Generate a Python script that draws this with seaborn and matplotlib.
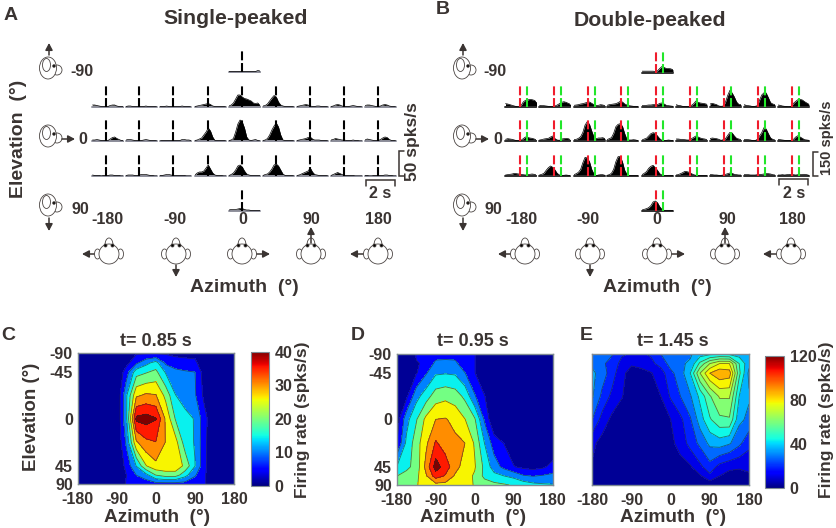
import numpy as np
import matplotlib
matplotlib.use("Agg")
import matplotlib.pyplot as plt
from matplotlib.patches import Ellipse
from matplotlib.cm import ScalarMappable
from matplotlib.colors import Normalize
import seaborn as sns

# ---------- data ----------
bin_time = [0.0, 0.15, 0.3, 0.45, 0.6, 0.75, 0.9, 1.05, 1.2, 1.35, 1.5, 1.65, 1.8, 1.95, 2.1]

single_top = [1,1,1,1,1,1,1,1,1,1,1,1,1,3,2]
single_r1 = [
 [4,4,3,2,1,1,1,1,3,4,4,2,1,1,1],
 [1,2,2,1,1,1,1,1,1,2,1,1,1,1,0],
 [1,1,1,2,1,1,1,1,1,1,2,1,1,1,0],
 [1,2,3,4,5,6,7,5,2,1,1,1,1,1,0],
 [2,4,8,16,24,24,20,17,16,14,12,8,7,8,3],
 [2,3,6,12,18,23,20,10,4,2,1,1,1,1,0],
 [1,2,3,4,5,4,2,1,1,2,2,1,1,1,0],
 [1,2,4,5,4,2,1,1,1,2,3,2,1,1,0],
 [3,4,4,3,2,1,1,2,4,5,4,2,1,1,0]]
single_r2 = [
 [2,2,3,2,1,1,1,1,4,7,8,5,3,1,1],
 [2,3,3,2,1,1,1,1,2,3,2,1,1,1,0],
 [0,1,1,1,1,1,1,1,1,1,3,3,2,2,1],
 [1,2,4,6,12,18,26,20,8,1,1,1,1,1,0],
 [1,2,5,18,34,42,38,26,8,2,1,2,3,1,0],
 [1,2,5,12,22,30,36,28,12,2,1,1,1,1,0],
 [1,2,3,4,5,7,8,4,2,2,2,1,1,1,0],
 [2,3,5,4,3,2,2,1,1,1,2,1,1,0,0],
 [2,4,3,2,1,1,1,3,6,8,7,3,1,1,0]]
single_r3 = [
 [2,1,1,1,0,1,1,1,2,2,1,1,1,0,0],
 [1,2,2,2,1,1,2,3,3,3,2,1,1,0,0],
 [1,1,2,3,3,2,1,1,1,1,1,1,0,0,0],
 [2,6,8,8,10,16,22,14,6,2,1,1,1,0,0],
 [1,3,6,12,20,22,18,10,4,2,1,1,1,1,1],
 [1,3,4,8,14,22,24,20,12,4,1,1,1,1,0],
 [1,2,4,6,8,10,16,8,3,2,1,1,1,1,0],
 [1,3,5,7,5,3,1,1,1,1,1,0,0,0,0],
 [1,1,0,0,1,1,1,1,1,2,2,1,1,0,0]]
single_bottom = [1,2,2,2,3,4,4,2,1,1,0,0,0,0,0]

double_top = [8,8,8,8,8,8,6,10,24,36,30,24,24,22,16]
double_r1 = [
 [20,18,14,10,6,2,0,8,30,40,42,46,44,40,30],
 [10,8,8,6,4,3,2,6,12,20,28,32,28,22,16],
 [10,12,14,18,20,24,28,30,22,14,10,10,14,12,8],
 [10,14,16,18,20,26,34,30,18,12,8,6,4,4,2],
 [8,8,10,12,12,14,14,14,22,24,18,10,8,6,4],
 [14,10,8,4,2,2,3,10,20,36,28,24,22,20,16],
 [18,22,18,14,6,4,6,30,70,100,84,60,30,16,14],
 [14,10,8,6,2,4,8,40,72,85,84,56,26,18,14],
 [12,10,6,4,2,1,4,22,34,44,46,42,32,24,16]]
double_r2 = [
 [10,14,12,10,6,2,1,4,14,24,22,18,16,12,6],
 [6,8,12,14,16,24,30,14,6,4,12,14,16,14,8],
 [8,10,16,26,52,96,116,100,60,24,14,18,18,20,14],
 [8,14,20,46,86,100,104,88,44,10,6,6,8,6,2],
 [6,12,16,30,44,50,46,30,14,4,2,4,6,4,2],
 [12,12,10,10,8,6,6,14,22,30,24,18,14,12,8],
 [14,18,16,14,10,4,8,14,34,52,48,30,16,12,8],
 [8,10,8,6,2,2,10,30,50,80,72,44,18,10,6],
 [10,8,6,4,2,2,4,10,24,32,24,16,8,6,4]]
double_r3 = [
 [6,8,10,12,16,14,12,10,8,6,8,10,12,10,6],
 [6,10,16,34,50,60,52,36,16,6,4,4,6,4,2],
 [8,14,22,40,80,112,108,86,40,12,2,6,8,8,4],
 [4,8,16,40,86,116,118,84,34,10,4,2,2,2,2],
 [8,16,26,46,58,64,50,34,14,6,2,2,4,4,2],
 [6,8,14,20,28,26,22,14,8,4,2,2,2,2,2],
 [8,8,6,6,4,4,6,10,14,18,16,10,8,6,6],
 [8,8,8,6,6,6,8,10,10,12,14,14,12,8,6],
 [6,6,8,6,8,10,8,8,6,8,8,10,10,8,4]]
double_bottom = [6,10,14,20,32,54,60,50,26,10,4,4,4,4,2]

azimuth_grid = [-180,-157.5,-135,-112.5,-90,-67.5,-45,-22.5,0,22.5,45,67.5,90,112.5,135,157.5,180]
elevation_grid = [-90,-67.5,-45,-22.5,0,22.5,45,67.5,90]
elevation_ticks = [-90,-45,0,45,90]
azimuth_ticks = [-180,-90,0,90,180]

rate_c = [
 [0,0,0,0,0,3,4,4,4,4,3,3,3,1,0,0,0],
 [0,0,0,0,0,3,8,12,15,8,7,6,5.5,1,0,0,0],
 [0,0,0,0,0,7,16,17.5,19,13,10,9.5,9,2,0,0,0],
 [0,0,0,0,0,13,26,27.5,27,21,13.5,11,9.5,3,0,0,0],
 [0,0,0,0,0,13,36.6,37.5,35.8,26,17.5,15,13,6,0,0,0],
 [0,0,0,0,0,10,26,30,31,26.5,24,15.5,13,5.5,0,0,0],
 [0,0,0,0,0,6,13.5,22,25.5,25.5,25.5,21,13.5,5.5,0,0,0],
 [0,0,0,0,0,4.5,9,12,18,20,20,15,9.5,5,0,0,0],
 [0,0,0,0,0,5,6,6,7,7,7,7,6,5,0,0,0]]
rate_d = [
 [0,0,14,17,20,20,20,17,14,0,0,0,0,0,0,0,0],
 [0,0,13,14,30,31,30,16,14,0,0,0,0,0,0,0,0],
 [0,0,12,25,38,39,38,27,14,0,0,0,0,0,0,0,0],
 [0,10,35,47,60,63,60,50,28,14,0,0,0,0,0,0,0],
 [5,35,52,70,80,81,76,67,55,25,0,0,0,0,0,0,0],
 [13,43,60,77,95,87,83,80,65,40,20,13,5,0,0,0,0],
 [40,50,58,84,113,100,85,74,68,50,33,23,14,10,8,11,18],
 [53,58,63,78,100,92,78,72,65,50,44,40,36,28,26,28,30],
 [55,60,66,70,75,75,72,70,66,60,57,55,52,48,44,42,41]]
rate_e = [
 [30,30,25,17,15,15,17,24,30,31,31,36,38,39,38,36,32],
 [30,26,20,14,9,10,14,19,27,31,33,50,64,72,72,48,34],
 [34,28,20,10,5,6,7.5,12,22,28,40,64,80,86,84,50,30],
 [33,22,14,8.5,4,4,5,8,17,24,31,42,55,65,65,40,33],
 [24,13,6,4,4,4,4,4,8,14,23,36,47,54,55,34,30],
 [10,5,3,3,3,3,3,3,6,11,19,26,34,36,33,26,18],
 [7,4,3,3,3,3,3,3,3,5,7,14,21,13,10,9,11],
 [3,2,2,2,2,2,2,2,2,3,3,7,14,8,5,5,6],
 [1,1,1,1,1,1,1,1,1,1,1,2,3,2,2,2,2]]

# ---------- style ----------
W, H = 837, 528
INK = "#3a3432"
sns.set_theme(style="white")
plt.rcParams["font.family"] = ["Liberation Sans", "DejaVu Sans"]
plt.rcParams["font.weight"] = "bold"
plt.rcParams["text.color"] = INK
plt.rcParams["xtick.color"] = INK
plt.rcParams["ytick.color"] = INK
plt.rcParams["axes.unicode_minus"] = False

fig = plt.figure(figsize=(W / 100, H / 100), dpi=100)
fig.patch.set_facecolor("white")


def ax_px(left, top, right, bottom, **kw):
    return fig.add_axes([left / W, 1 - bottom / H, (right - left) / W, (bottom - top) / H], **kw)


def psth(left, base, values, ymax, onsets, colors, base_color):
    ax = ax_px(left, base - 23, left + 31, base)
    ax.axis("off")
    ax.patch.set_alpha(0)
    t = np.array(bin_time)
    v = np.array(values, dtype=float)
    ax.fill_between(t, 0, v, color="black", lw=0)
    sns.lineplot(x=t, y=v, ax=ax, color="black", lw=0.5, errorbar=None, legend=False)
    ax.axhline(0, color=base_color, lw=1.4, clip_on=False, zorder=1)
    ax.set_xlim(0, 2.1)
    ax.set_ylim(0, ymax)
    for on, c in zip(onsets, colors):
        ax.axvline(on, ymin=0, ymax=21 / 23, color=c, lw=1.5, ls=(0, (4.3, 1.3)), zorder=5)


# Panel A PSTHs
cols_a = [92.5, 126, 160, 195, 229, 263, 297, 331, 365]
for i, left in enumerate(cols_a):
    psth(left, 107, single_r1[i], 46, [0.9], ["black"], "#8f909c")
    psth(left, 141, single_r2[i], 46, [0.9], ["black"], "#8f909c")
    psth(left, 176, single_r3[i], 46, [0.9], ["black"], "#8f909c")
psth(229, 72, single_top, 46, [0.9], ["black"], "#8f909c")
psth(229, 210.5, single_bottom, 46, [0.9], ["black"], "#8f909c")

# Panel B PSTHs
cols_b = [505.5, 539.5, 574, 607, 642, 676, 710, 744, 778]
RED, GREEN = "#f01c2c", "#22e62a"
for i, left in enumerate(cols_b):
    psth(left, 107, double_r1[i], 138, [0.95, 1.45], [RED, GREEN], "#303030")
    psth(left, 141, double_r2[i], 138, [0.95, 1.45], [RED, GREEN], "#303030")
    psth(left, 176, double_r3[i], 138, [0.95, 1.45], [RED, GREEN], "#303030")
psth(642, 72.5, double_top, 138, [0.95, 1.45], [RED, GREEN], "#303030")
psth(642, 211, double_bottom, 138, [0.95, 1.45], [RED, GREEN], "#303030")


# Contour maps
def el_forward(e):
    return np.interp(e, [-90, -45, 0, 45, 90], [0, 19, 65, 112, 130])


def el_inverse(p):
    return np.interp(p, [0, 19, 65, 112, 130], [-90, -45, 0, 45, 90])


jet = plt.get_cmap("jet")
shades_coarse = [jet(p) for p in (0.02, 0.12, 0.25, 0.36, 0.49, 0.65, 0.76, 0.88, 1.0)]
shades_fine = [jet(0.02 + 0.07 * k) for k in range(15)]


def rate_map(left, top, right, bottom, grid, vmax, shades, show_y):
    ax = ax_px(left, top, right, bottom)
    ax.set_yscale("function", functions=(el_forward, el_inverse))
    levels = np.linspace(0, vmax, len(shades) + 1)
    X, Y = np.meshgrid(azimuth_grid, elevation_grid)
    Z = np.array(grid, dtype=float)
    ax.contourf(X, Y, Z, levels=levels, colors=shades)
    ax.contour(X, Y, Z, levels=levels[1:], colors="#2c2c2c", linewidths=0.6, alpha=0.65)
    ax.set_xlim(-180, 180)
    ax.set_ylim(90, -90)
    ax.set_xticks(azimuth_ticks)
    ax.set_yticks(elevation_ticks if show_y else [])
    ax.minorticks_off()
    ax.tick_params(length=0, labelsize=11.5, pad=3.5)
    ax.tick_params(axis="x", pad=6)
    for s in ax.spines.values():
        s.set_color("#7f8a93")
        s.set_linewidth(1)
    return ax


rate_map(77.7, 353.3, 234, 484, rate_c, 40, shades_coarse, True)
rate_map(396.7, 353.7, 552.7, 485, rate_d, 120, shades_coarse, True)
rate_map(592.3, 354, 749, 485, rate_e, 120, shades_fine, False)


def bar(left, top, right, bottom, vmax, ticks):
    cax = ax_px(left, top, right, bottom)
    cb = fig.colorbar(ScalarMappable(Normalize(0, vmax), "jet"), cax=cax)
    cb.set_ticks(ticks)
    cb.ax.tick_params(length=0, labelsize=11.5, pad=4)
    cb.outline.set_edgecolor("#7f8a93")
    cb.outline.set_linewidth(0.8)


bar(250.7, 351.7, 269.3, 485.7, 40, [0, 10, 20, 30, 40])
bar(765.3, 355.7, 784, 488.3, 120, [0, 40, 80, 120])

# ---------- overlay: text and cartoons in pixel units ----------
ov = fig.add_axes([0, 0, 1, 1], zorder=20)
ov.set_xlim(0, W)
ov.set_ylim(H, 0)
ov.axis("off")
ov.patch.set_alpha(0)


def txt(x, y, s, size=11.5, rot=0, ha="center", va="center"):
    ov.text(x, y, s, fontsize=size, rotation=rot, ha=ha, va=va, fontweight="bold", color=INK)


def arrow(x0, y0, x1, y1):
    ov.annotate("", xy=(x1, y1), xytext=(x0, y0),
                arrowprops=dict(arrowstyle="-|>,head_width=0.18,head_length=0.34",
                                color=INK, lw=1.1, shrinkA=0, shrinkB=0))


def ell(x, y, w, h, z=2, fc="white", angle=0):
    ov.add_patch(Ellipse((x, y), w, h, angle=angle, fc=fc, ec="#4a4442", lw=0.6, zorder=z))


def head_top(x, y):
    ell(x, y - 9, 8, 14, z=2)
    ell(x - 11.5, y, 6, 10, z=2)
    ell(x + 11.5, y, 6, 10, z=2)
    ell(x, y, 20, 20, z=3)
    for dx in (-3.5, 3.5):
        ell(x + dx, y - 8.5, 3, 3, z=4, fc="black")


def head_side(x, y):
    ell(x + 9, y + 2, 10, 10, z=2)
    ell(x, y, 17, 22, z=3)
    ell(x - 1.5, y - 3, 8, 13, z=4, fc="none")
    ell(x + 6, y - 2, 2.6, 2.6, z=5, fc="black")


def panel_cartoons(side_x, top_x):
    for yy in (68, 136, 205):
        head_side(side_x, yy)
    arrow(side_x + 1, 55, side_x + 1, 43)
    arrow(side_x + 14, 139, side_x + 27, 139)
    arrow(side_x + 1, 218, side_x + 1, 231)
    for xx in top_x:
        head_top(xx, 254)
    arrow(top_x[0] - 15, 254, top_x[0] - 27, 254)
    arrow(top_x[1], 265, top_x[1], 277)
    arrow(top_x[2] + 15, 254, top_x[2] + 28, 254)
    arrow(top_x[3], 243, top_x[3], 227)
    arrow(top_x[4] - 15, 254, top_x[4] - 28, 254)


panel_cartoons(48, [109, 176, 242, 311, 378])
panel_cartoons(462, [525, 590, 657, 725, 791])

# panel letters and headings
txt(11, 15, "A", 14)
txt(443, 10, "B", 14)
txt(8, 335, "C", 14)
txt(358, 335, "D", 14)
txt(586, 335, "E", 14)
txt(236, 18, "Single-peaked", 15.3)
txt(650, 20, "Double-peaked", 15.3)

# panel A labels
txt(82, 71, "-90")
txt(83, 139, "0")
txt(80, 209, "90")
for x, s in zip([107, 175, 243, 311, 378], azimuth_ticks):
    txt(x, 220, str(s))
txt(244, 288, "Azimuth  (°)", 14)
txt(19, 139, "Elevation  (°)", 14, rot=90)

# panel B labels
txt(495, 71, "-90")
txt(498, 139, "0")
txt(493, 209, "90")
for x, s in zip([521, 588, 657, 727, 792], azimuth_ticks):
    txt(x, 220, str(s))
txt(657, 288, "Azimuth  (°)", 14)


def brackets(x0, x1, yb, xv, y0, y1):
    ov.plot([x0, x0, x1, x1], [yb + 6, yb, yb, yb + 6], color=INK, lw=1.1, solid_joinstyle="miter")
    ov.plot([xv + 5, xv, xv, xv + 5], [y0, y0, y1, y1], color=INK, lw=1.1, solid_joinstyle="miter")


brackets(366, 395, 180, 399, 151, 176)
brackets(779, 808, 179, 813, 152, 176)
txt(380, 194, "2 s")
txt(794, 194, "2 s")
txt(413, 142, "50 spks/s", 12.5, rot=90)
txt(827, 138, "150 spks/s", 10.5, rot=90)

# map labels
txt(156, 341, "t= 0.85 s", 13)
txt(473, 341, "t= 0.95 s", 13)
txt(673, 341, "t= 1.45 s", 13)
txt(157, 517, "Azimuth  (°)", 13.7)
txt(473, 517, "Azimuth  (°)", 13.7)
txt(673, 517, "Azimuth  (°)", 13.7)
txt(32, 417, "Elevation (°)", 13.5, rot=90)
txt(303, 420, "Firing rate (spks/s)", 12.5, rot=90)
txt(827, 420, "Firing rate (spks/s)", 12.5, rot=90)

fig.savefig("out.png", dpi=100, facecolor="white")
